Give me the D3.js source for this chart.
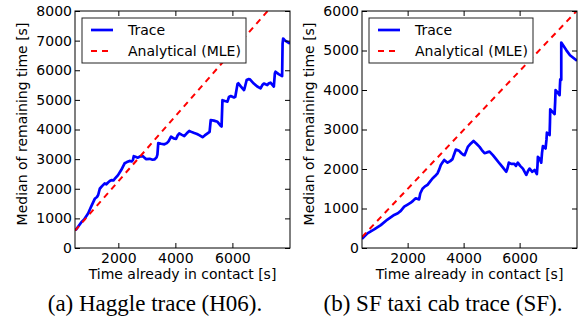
<!DOCTYPE html>
<html>
<head>
<meta charset="utf-8">
<script src="https://d3js.org/d3.v7.min.js"></script>
<style>
  body { margin: 0; background: white; }
  svg { display: block; }
</style>
</head>
<body>
<svg id="chart" width="582" height="325"></svg>
<script>
// data
var hagX = [500, 620, 709, 800, 943, 1000, 1058, 1173, 1250, 1292, 1349, 1420, 1522, 1580, 1640, 1700, 1756, 1830, 1871, 1989,
  2105, 2220, 2300, 2394, 2470, 2512, 2540, 2600, 2685, 2760, 2861, 2920, 2977, 3100, 3200, 3266, 3340, 3370, 3400, 3500,
  3615, 3700, 3760, 3849, 3940, 4023, 4080, 4138, 4230, 4312, 4400, 4487, 4560, 4663, 4760, 4837, 4953, 5030, 5128, 5200,
  5240, 5350, 5477, 5593, 5620, 5651, 5740, 5826, 5880, 5942, 6058, 6100, 6180, 6209, 6300, 6407, 6430, 6500, 6560, 6616,
  6750, 6872, 6988, 7050, 7105, 7221, 7280, 7337, 7453, 7490, 7512, 7620, 7744, 7760, 7779, 7850, 7919, 8020];
var hagY = [600, 760, 880, 960, 1170, 1300, 1420, 1660, 1720, 1790, 2000, 2080, 2180, 2150, 2210, 2260, 2290, 2280, 2330, 2460,
  2640, 2860, 2900, 2940, 2920, 2970, 3100, 3080, 3050, 3090, 3100, 3040, 3000, 3010, 2980, 2990, 3060, 3150, 3540, 3520,
  3500, 3540, 3600, 3760, 3700, 3680, 3800, 3870, 3820, 3780, 3870, 3950, 3920, 3880, 3850, 3810, 3740, 3800, 3870, 3920,
  4320, 4300, 4260, 4120, 4100, 4990, 4960, 4940, 5100, 5130, 5080, 5100, 5540, 5560, 5450, 5330, 5400, 5670, 5700, 5690,
  5550, 5450, 5390, 5500, 5550, 5500, 5560, 5580, 5450, 5900, 5950, 5870, 5800, 6900, 7070, 7000, 6960, 6900];
var hagMleX = [480, 8020];
var hagMleY = [585, 8860];

var sfX = [370, 565, 804, 1040, 1280, 1519, 1650, 1755, 1877, 2000, 2112, 2200, 2291, 2410, 2450, 2531, 2620, 2710, 2800, 2888,
  2980, 3067, 3130, 3185, 3250, 3307, 3426, 3520, 3603, 3650, 3721, 3840, 3920, 3997, 4033, 4080, 4150, 4250, 4354, 4460,
  4569, 4650, 4747, 4830, 4926, 5045, 5160, 5283, 5400, 5522, 5560, 5616, 5700, 5815, 5870, 5934, 6020, 6117, 6238, 6300,
  6357, 6453, 6536, 6617, 6640, 6653, 6720, 6773, 6800, 6832, 6928, 6960, 6975, 7071, 7085, 7094, 7249, 7270, 7285, 7428,
  7440, 7452, 7488, 7488, 7666, 7800, 8050];
var sfY = [230, 370, 470, 580, 720, 836, 880, 940, 1046, 1100, 1147, 1200, 1258, 1230, 1380, 1500, 1560, 1600, 1680, 1760,
  1820, 1890, 1990, 2100, 2170, 2230, 2160, 2200, 2250, 2350, 2490, 2460, 2400, 2355, 2350, 2430, 2560, 2640, 2710, 2640,
  2560, 2480, 2400, 2420, 2440, 2350, 2250, 2140, 2040, 1930, 2000, 2160, 2130, 2130, 2080, 2160, 2080, 2010, 1850, 1950,
  2010, 1930, 1975, 1874, 2100, 2310, 2250, 2160, 2400, 2580, 2520, 2750, 2920, 2860, 3200, 3510, 3390, 3700, 4000, 3870,
  4100, 4270, 4255, 5200, 5010, 4880, 4740];
var sfMleX = [370, 8050];
var sfMleY = [280, 6010];

var xTicks = [2000, 4000, 6000];
var hagYTicks = [0, 1000, 2000, 3000, 4000, 5000, 6000, 7000, 8000];
var sfYTicks = [0, 1000, 2000, 3000, 4000, 5000, 6000];
var legendLabels = ['Trace', 'Analytical (MLE)'];
var captions = ['(a) Haggle trace (H06).', '(b) SF taxi cab trace (SF).'];
var xLabel = 'Time already in contact [s]';
var yLabel = 'Median of remaining time [s]';

var svg = d3.select('#chart'),
  FONT = 'DejaVu Sans, sans-serif',
  TICK = 5,
  TOP = 11,
  BOTTOM = 248;

var panels = [
  { id: 'hag', left: 75, right: 290, xDomain: [480, 8020], yMax: 8000, yTicks: hagYTicks,
    tx: hagX, ty: hagY, mx: hagMleX, my: hagMleY, ylabelX: 27, capX: 155, caption: captions[0] },
  { id: 'sf', left: 362, right: 577, xDomain: [370, 8050], yMax: 6000, yTicks: sfYTicks,
    tx: sfX, ty: sfY, mx: sfMleX, my: sfMleY, ylabelX: 314, capX: 443, caption: captions[1] }
];

panels.forEach(function(p) {
  var x = d3.scaleLinear().domain(p.xDomain).range([p.left, p.right]),
    y = d3.scaleLinear().domain([0, p.yMax]).range([BOTTOM, TOP]);

  var g = svg.append('g').attr('id', p.id);

  g.append('clipPath')
    .attr('id', 'clip_' + p.id)
    .append('rect')
    .attr('x', p.left)
    .attr('y', TOP)
    .attr('width', p.right - p.left)
    .attr('height', BOTTOM - TOP);

  var line = d3.line()
    .x(function(d) { return x(d[0]); })
    .y(function(d) { return y(d[1]); });

  var plot = g.append('g').attr('clip-path', 'url(#clip_' + p.id + ')');

  // trace
  plot.append('path')
    .datum(p.tx.map(function(v, i) { return [v, p.ty[i]]; }))
    .attr('d', line)
    .attr('fill', 'none')
    .attr('stroke', '#0000ff')
    .attr('stroke-width', 2.7)
    .attr('stroke-linejoin', 'round');

  // analytical
  plot.append('path')
    .datum(p.mx.map(function(v, i) { return [v, p.my[i]]; }))
    .attr('d', line)
    .attr('fill', 'none')
    .attr('stroke', '#ff0000')
    .attr('stroke-width', 2)
    .attr('stroke-dasharray', '6,5');

  // axes, ticks inward on all four sides
  g.append('g')
    .attr('transform', 'translate(0,' + BOTTOM + ')')
    .call(d3.axisBottom(x).tickValues(xTicks).tickSize(-TICK).tickPadding(5).tickFormat(d3.format('d')));
  g.append('g')
    .attr('transform', 'translate(0,' + TOP + ')')
    .call(d3.axisTop(x).tickValues(xTicks).tickSize(-TICK).tickFormat(''));
  g.append('g')
    .attr('transform', 'translate(' + p.left + ',0)')
    .call(d3.axisLeft(y).tickValues(p.yTicks).tickSize(-TICK).tickPadding(3).tickFormat(d3.format('d')));
  g.append('g')
    .attr('transform', 'translate(' + p.right + ',0)')
    .call(d3.axisRight(y).tickValues(p.yTicks).tickSize(-TICK).tickFormat(''));

  g.selectAll('.domain').remove();
  g.selectAll('.tick line').attr('stroke', 'black');
  g.selectAll('.tick text')
    .attr('fill', 'black')
    .style('font-family', FONT)
    .style('font-size', '14px');

  g.append('rect')
    .attr('x', p.left)
    .attr('y', TOP)
    .attr('width', p.right - p.left)
    .attr('height', BOTTOM - TOP)
    .attr('fill', 'none')
    .attr('stroke', 'black')
    .attr('stroke-width', 1);

  g.append('text')
    .attr('x', (p.left + p.right) / 2)
    .attr('y', 279)
    .attr('text-anchor', 'middle')
    .style('font-family', FONT)
    .style('font-size', '14px')
    .text(xLabel);

  g.append('text')
    .attr('transform', 'translate(' + p.ylabelX + ',124) rotate(-90)')
    .attr('text-anchor', 'middle')
    .style('font-family', FONT)
    .style('font-size', '14px')
    .text(yLabel);

  // legend
  var lx = p.left + 7, ly = 18;
  var leg = g.append('g').attr('transform', 'translate(' + lx + ',' + ly + ')');
  leg.append('rect')
    .attr('width', 164)
    .attr('height', 45)
    .attr('fill', 'white')
    .attr('stroke', '#222')
    .attr('stroke-width', 1);
  legendLabels.forEach(function(lab, i) {
    var yy = 12 + i * 21;
    leg.append('line')
      .attr('x1', 9).attr('x2', 31)
      .attr('y1', yy).attr('y2', yy)
      .attr('stroke', i === 0 ? '#0000ff' : '#ff0000')
      .attr('stroke-width', i === 0 ? 2.7 : 2)
      .attr('stroke-dasharray', i === 0 ? null : '6,5');
    leg.append('text')
      .attr('x', 46)
      .attr('y', yy + 5)
      .style('font-family', FONT)
      .style('font-size', '14px')
      .text(lab);
  });

  g.append('text')
    .attr('x', p.capX)
    .attr('y', 311)
    .attr('text-anchor', 'middle')
    .style('font-family', 'Liberation Serif, Times New Roman, serif')
    .style('font-size', '23px')
    .text(p.caption);
});
</script>
</body>
</html>
